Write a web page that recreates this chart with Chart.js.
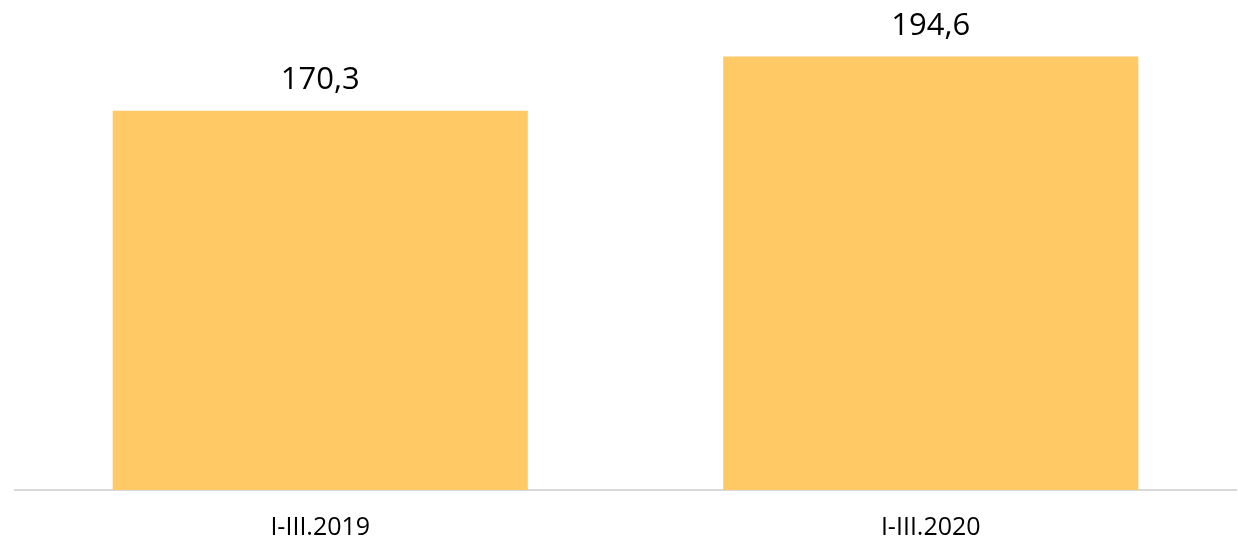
<!DOCTYPE html>
<html>
<head>
<meta charset="utf-8">
<script src="https://cdn.jsdelivr.net/npm/chart.js@4"></script>
<style>
  html, body { margin: 0; padding: 0; background: #ffffff; }
  #wrap { width: 1238px; height: 543px; position: relative; }
</style>
</head>
<body>
<div id="wrap"><canvas id="c" width="1238" height="543"></canvas></div>
<script>
const categories = ["I-III.2019", "I-III.2020"];
const values = [170.3, 194.6];
const valueLabels = ["170,3", "194,6"];

const barColor = "#FFCA66";

const valueLabelPlugin = {
  id: "valueLabels",
  afterDatasetsDraw(chart) {
    const ctx = chart.ctx;
    const meta = chart.getDatasetMeta(0);
    ctx.save();
    ctx.font = "31px 'Open Sans'";
    ctx.fillStyle = "#000000";
    ctx.textAlign = "center";
    ctx.textBaseline = "alphabetic";
    meta.data.forEach((bar, i) => {
      ctx.fillText(valueLabels[i], bar.x, bar.y - 22);
    });
    ctx.restore();
  }
};

new Chart(document.getElementById("c"), {
  type: "bar",
  data: {
    labels: categories,
    datasets: [{
      data: values,
      backgroundColor: barColor,
      borderWidth: 0,
      barPercentage: 0.68,
      categoryPercentage: 1.0
    }]
  },
  options: {
    responsive: false,
    animation: false,
    layout: { padding: { left: 15, right: 2, top: 0, bottom: 0 } },
    plugins: { legend: { display: false }, tooltip: { enabled: false } },
    scales: {
      x: {
        grid: { display: false, drawTicks: false },
        border: { display: true, color: "#D9D9D9", width: 2 },
        ticks: {
          color: "#000000",
          font: { family: "'Open Sans'", size: 25 },
          padding: 23
        },
        afterFit(scale) { scale.height = 53; }
      },
      y: {
        display: false,
        min: 0,
        max: 220
      }
    }
  },
  plugins: [valueLabelPlugin]
});
</script>
</body>
</html>
